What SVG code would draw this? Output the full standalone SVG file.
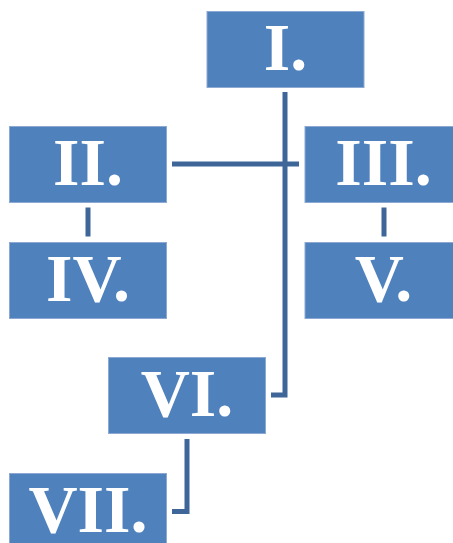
<svg xmlns="http://www.w3.org/2000/svg" width="453" height="543" viewBox="0 0 453 543">
<style>
.box{fill:#4F81BD;stroke:#8BA9D3;stroke-width:1}
.lbl{font-family:"Liberation Serif","Times New Roman",serif;font-weight:bold;font-size:68px;fill:#FFFFFF;text-anchor:middle}
.con{fill:none;stroke:#3F6698;stroke-width:5}
</style>
<rect width="453" height="543" fill="#FFFFFF"/>
<g id="connectors">
<path class="con" d="M285 92 V395 H271"/>
<path class="con" d="M172 164 H299"/>
<path class="con" d="M88 207.5 V236.5"/>
<path class="con" d="M384 207.5 V236.5"/>
<path class="con" d="M187 439 V511.5 H172"/>
</g>
<g id="node-I"><rect class="box" x="207" y="11.5" width="157" height="76"/><text class="lbl" x="285.5" y="70">I.</text></g>
<g id="node-II"><rect class="box" x="9.5" y="126.5" width="157" height="76"/><text class="lbl" x="88" y="185">II.</text></g>
<g id="node-III"><rect class="box" x="305" y="126.5" width="157" height="76"/><text class="lbl" x="383.5" y="185">III.</text></g>
<g id="node-IV"><rect class="box" x="9.5" y="242.5" width="157" height="76"/><text class="lbl" x="88" y="301">IV.</text></g>
<g id="node-V"><rect class="box" x="305" y="242.5" width="157" height="76"/><text class="lbl" x="383.5" y="301">V.</text></g>
<g id="node-VI"><rect class="box" x="108.5" y="357.5" width="157" height="76"/><text class="lbl" x="187" y="416">VI.</text></g>
<g id="node-VII"><rect class="box" x="9.5" y="473.5" width="157" height="76"/><text class="lbl" x="88" y="532">VII.</text></g>
</svg>
